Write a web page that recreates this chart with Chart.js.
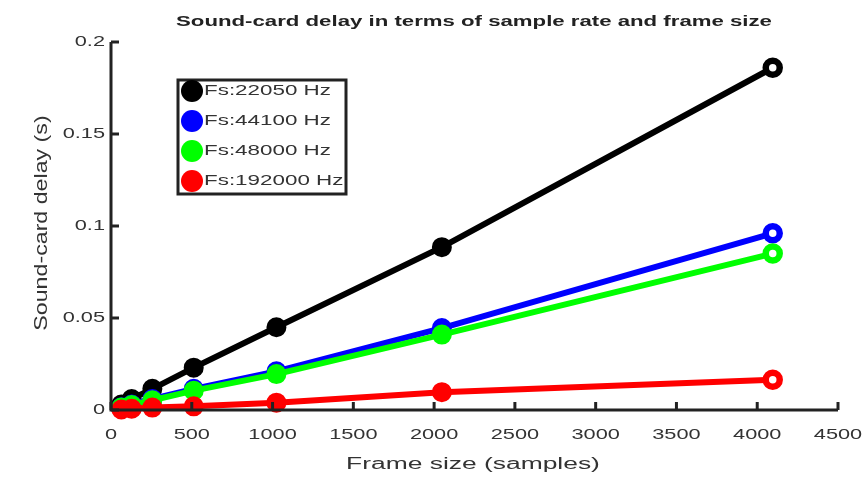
<!DOCTYPE html>
<html>
<head>
<meta charset="utf-8">
<script src="https://cdn.jsdelivr.net/npm/chart.js@4"></script>
<style>
  html, body { margin: 0; padding: 0; background: #fff; }
  #wrap { width: 864px; height: 478px; }
</style>
</head>
<body>
<div id="wrap"><canvas id="mycanvas"></canvas></div>
<script>
// frame sizes (samples)
var frameSizes = [64, 128, 256, 512, 1024, 2048, 4096];
// delay in seconds
var fs22050 = [0.003, 0.006, 0.0115, 0.023, 0.045, 0.0885, 0.186];
var fs44100 = [0.0015, 0.003, 0.006, 0.0115, 0.021, 0.0445, 0.096];
var fs48000 = [0.0013, 0.0027, 0.0053, 0.0105, 0.0195, 0.041, 0.085];
var fs192000 = [0.0003, 0.0007, 0.0013, 0.002, 0.004, 0.0097, 0.0165];
var seriesLabels = ["Fs:22050 Hz", "Fs:44100 Hz", "Fs:48000 Hz", "Fs:192000 Hz"];
var xTicks = [0, 500, 1000, 1500, 2000, 2500, 3000, 3500, 4000, 4500];
var yTicks = [0, 0.05, 0.1, 0.15, 0.2];
var titleText = "Sound-card delay in terms of sample rate and frame size";
var xTitle = "Frame size (samples)";
var yTitle = "Sound-card delay (s)";

var textCol = "#333";
var FONT = "'Liberation Sans', Arial, sans-serif";

function pts(vals) {
	return vals.map(function(v, i){ return {x: frameSizes[i], y: v}; });
}

function makeSet(label, vals, col, ord) {
	var last = vals.length - 1;
	var bg = vals.map(function(v, i){ return i == last ? "#fff" : col; });
	var bw = vals.map(function(v, i){ return i == last ? 6.5 : 4; });
	var rad = vals.map(function(v, i){ return i == last ? 7 : 8; });
	return {
		label: label,
		data: pts(vals),
		borderColor: col,
		backgroundColor: col,
		borderWidth: 6,
		pointRadius: rad,
		pointBorderWidth: bw,
		pointBackgroundColor: bg,
		pointBorderColor: col,
		order: ord,
		tension: 0
	};
}

// draw text squeezed/stretched horizontally like the original
function stretchText(ctx, txt, x, y, align, sx) {
	ctx.save();
	ctx.translate(x, y);
	ctx.scale(sx, 1);
	ctx.textAlign = align;
	ctx.fillText(txt, 0, 0);
	ctx.restore();
}

var decor = {
	id: "decor",
	afterDraw: function(chart) {
		var ctx = chart.ctx;
		var xs = chart.scales.x, ys = chart.scales.y;
		var a = chart.chartArea;
		ctx.save();
		// axes
		ctx.strokeStyle = "#222";
		ctx.lineWidth = 3;
		ctx.beginPath();
		ctx.moveTo(a.left, a.top);
		ctx.lineTo(a.left, a.bottom);
		ctx.lineTo(a.right, a.bottom);
		ctx.stroke();
		// inward ticks
		xTicks.forEach(function(t){
			var px = xs.getPixelForValue(t);
			ctx.beginPath(); ctx.moveTo(px, a.bottom); ctx.lineTo(px, a.bottom - 8); ctx.stroke();
		});
		yTicks.forEach(function(t){
			var py = ys.getPixelForValue(t);
			ctx.beginPath(); ctx.moveTo(a.left, py); ctx.lineTo(a.left + 8, py); ctx.stroke();
		});
		// tick labels
		ctx.fillStyle = textCol;
		ctx.font = "15px " + FONT;
		ctx.textBaseline = "middle";
		xTicks.forEach(function(t){
			stretchText(ctx, String(t), xs.getPixelForValue(t), a.bottom + 25, "center", 1.45);
		});
		yTicks.forEach(function(t){
			stretchText(ctx, String(t), a.left - 6, ys.getPixelForValue(t), "right", 1.45);
		});
		// axis titles
		ctx.font = "16px " + FONT;
		stretchText(ctx, xTitle, 473, 465, "center", 1.65);
		ctx.save();
		ctx.translate(42, 223);
		ctx.rotate(-Math.PI / 2);
		ctx.scale(1.45, 1.2);
		ctx.textAlign = "center";
		ctx.fillText(yTitle, 0, 0);
		ctx.restore();
		// title
		ctx.fillStyle = "#222";
		ctx.font = "bold 15px " + FONT;
		stretchText(ctx, titleText, 474, 22, "center", 1.48);
		// legend
		var lx = 178, ly = 80, lw = 168, lh = 114;
		ctx.fillStyle = "#fff";
		ctx.fillRect(lx, ly, lw, lh);
		ctx.strokeStyle = "#222";
		ctx.lineWidth = 3;
		ctx.strokeRect(lx, ly, lw, lh);
		var rowY = [91, 121, 151, 181];
		chart.data.datasets.forEach(function(ds, i){
			ctx.fillStyle = ds.borderColor;
			ctx.beginPath();
			ctx.arc(192, rowY[i], 11, 0, Math.PI * 2);
			ctx.fill();
			ctx.fillStyle = textCol;
			ctx.font = "14px " + FONT;
			stretchText(ctx, ds.label, 204, rowY[i], "left", 1.6);
		});
		ctx.restore();
	}
};

var chartdata = {
	datasets: [
		makeSet(seriesLabels[0], fs22050, "#000000", 4),
		makeSet(seriesLabels[1], fs44100, "#0000ff", 3),
		makeSet(seriesLabels[2], fs48000, "#00ff00", 2),
		makeSet(seriesLabels[3], fs192000, "#ff0000", 1)
	]
};

var ctx = document.getElementById("mycanvas");
var LineGraph = new Chart(ctx, {
	type: "line",
	data: chartdata,
	options: {
		responsive: true,
		maintainAspectRatio: false,
		animation: false,
		clip: false,
		layout: { padding: { top: 42, right: 26, left: 0, bottom: 0 } },
		plugins: { legend: { display: false }, title: { display: false }, tooltip: { enabled: false } },
		scales: {
			x: {
				type: "linear", min: 0, max: 4500,
				grid: { display: false },
				border: { display: false },
				ticks: { display: false, stepSize: 500 },
				afterFit: function(s){ s.height = 68; }
			},
			y: {
				type: "linear", min: 0, max: 0.2,
				grid: { display: false },
				border: { display: false },
				ticks: { display: false, stepSize: 0.05 },
				afterFit: function(s){ s.width = 111; }
			}
		}
	},
	plugins: [decor]
});
</script>
</body>
</html>
